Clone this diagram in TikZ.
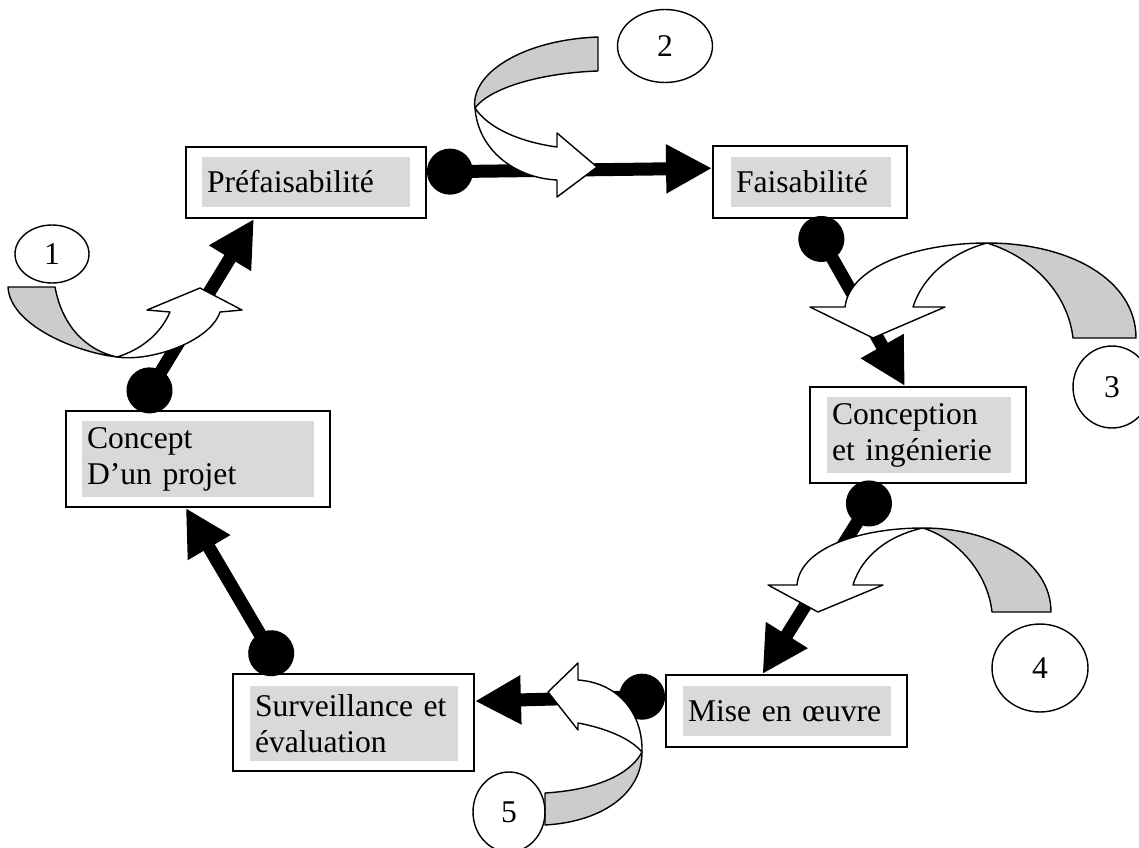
\documentclass[tikz,border=0pt]{standalone}
\usepackage{fontspec}
\setmainfont{Liberation Serif}
\usepackage{tikz}
\usetikzlibrary{arrows.meta,shapes.geometric}
\definecolor{hlgray}{gray}{0.85}
\definecolor{ribgray}{gray}{0.8}
\tikzset{stage/.style={draw,line width=1.1pt,fill=white,inner sep=0pt},
    hl/.style={fill=hlgray,inner xsep=0.1cm,inner ysep=0pt,align=left},
    num/.style={ellipse,draw,line width=0.8pt,inner sep=0pt},
    link/.style={line width=0.26cm,
    arrows={Circle[length=0.92cm]-Triangle[length=0.92cm,width=0.92cm]}},
    back/.style={draw,fill=ribgray,line width=0.8pt,line join=round},
    front/.style={draw,fill=white,line width=0.8pt,line join=round}}

\begin{document}
\begin{tikzpicture}[x=0.02cm,y=-0.02cm,font=\fontsize{18}{20.5}\selectfont]
            \useasboundingbox (0,0) rectangle (1139,848);
            \node[stage,minimum width=4.8cm,minimum height=1.42cm] (pref) at (306,182.5) {};
            \node[hl,text width=3.96cm,minimum height=1cm] (prefT) at (306,182) {Préfaisabilité};
            \node[stage,minimum width=3.88cm,minimum height=1.44cm] (faisa) at (810,182) {};
            \node[hl,text width=3cm,minimum height=1cm] (faisaT) at (811,182) {Faisabilité};
            \node[stage,minimum width=4.32cm,minimum height=1.92cm] (ingen) at (918,435) {};
            \node[hl,text width=3.48cm,minimum height=1.52cm] (ingenT) at (919,435) {Conception\\et ingénierie};
            \node[stage,minimum width=4.82cm,minimum height=1.44cm] (mise) at (786.5,711) {};
            \node[hl,text width=3.96cm,minimum height=1cm] (miseT) at (787,711) {Mise en œuvre};
            \node[stage,minimum width=4.82cm,minimum height=1.94cm] (surv) at (353.5,722.5) {};
            \node[hl,text width=3.96cm,minimum height=1.5cm] (survT) at (354,723.5) {Surveillance et\\évaluation};
            \node[stage,minimum width=5.28cm,minimum height=1.92cm] (concept) at (198,459) {};
            \node[hl,text width=4.44cm,minimum height=1.52cm] (conceptT) at (198,459) {Concept\\D’un projet};

            \draw[link] (concept.141.3) -- (pref.215.9);
            \draw[link] (pref.5.9) -- (faisa.172.9);
            \draw[link] (faisa.south) -- (ingen.105.2);
            \draw[link] (ingen.233.1) -- (mise.123.1);
            \draw[link] (mise.173.8) -- (surv.10.6);
            \draw[link] (surv.145.8) -- (concept.256);

            % 1
            \draw[back] (8,287) -- (55,287) .. controls (62,325) and (85,350) .. (117,357)
                .. controls (75,352) and (10,325) .. (8,287) -- cycle;
            \draw[front] (117,357) .. controls (150,362) and (210,342) .. (220,312) -- (242,310)
                -- (200,288) -- (147,310) -- (170,312) .. controls (160,335) and (140,350) .. (117,357) -- cycle;
            % 2
            \draw[back] (598,37) -- (598,71) .. controls (540,73) and (490,88) .. (475,108)
                .. controls (470,75) and (520,40) .. (598,37) -- cycle;
            \draw[front] (475,108) .. controls (478,150) and (515,178) .. (557,180) -- (557,197)
                -- (597,167) -- (557,133) -- (557,147) .. controls (520,142) and (488,128) .. (475,108) -- cycle;
            % 3
            \draw[back] (987,243) .. controls (1070,243) and (1136,280) .. (1136,338) -- (1073,338)
                .. controls (1068,295) and (1035,258) .. (987,243) -- cycle;
            \draw[front] (987,243) .. controls (920,243) and (850,265) .. (845,307) -- (810,307)
                -- (873,338) -- (945,307) -- (913,307) .. controls (925,270) and (960,250) .. (987,243) -- cycle;
            % 4
            \draw[back] (923,528) .. controls (990,528) and (1051,560) .. (1051,612) -- (992,612)
                .. controls (988,575) and (960,540) .. (923,528) -- cycle;
            \draw[front] (923,528) .. controls (860,528) and (800,548) .. (797,585) -- (768,585)
                -- (818,612) -- (883,585) -- (853,585) .. controls (862,555) and (890,535) .. (923,528) -- cycle;
            % 5
            \draw[back] (545,825) .. controls (600,822) and (642,795) .. (642,752)
                .. controls (630,775) and (595,790) .. (545,793) -- cycle;
            \draw[front] (642,752) .. controls (643,715) and (620,683) .. (578,680) -- (578,663)
                -- (548,692) -- (578,730) -- (578,723) .. controls (605,728) and (630,738) .. (642,752) -- cycle;

            \node[num,minimum width=1.48cm,minimum height=1.16cm] (n1) at (52,254) {1};
            \node[num,minimum width=1.9cm,minimum height=1.46cm] (n2) at (665,46) {2};
            \node[num,minimum width=1.56cm,minimum height=1.64cm] (n3) at (1112,387) {3};
            \node[num,minimum width=1.92cm,minimum height=1.76cm] (n4) at (1040,668) {4};
            \node[num,minimum width=1.44cm,minimum height=1.6cm] (n5) at (509,812) {5};
        \end{tikzpicture}
\end{document}
